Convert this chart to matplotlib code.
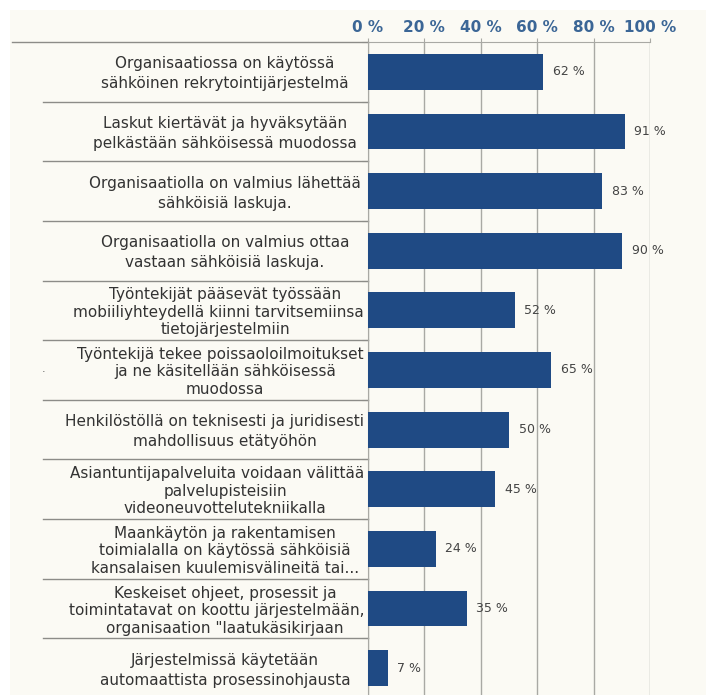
import matplotlib.pyplot as plt
import matplotlib.transforms as mtransforms
from matplotlib.patches import Rectangle

categories = [
    "Organisaatiossa on käytössä\nsähköinen rekrytointijärjestelmä",
    "Laskut kiertävät ja hyväksytään\npelkästään sähköisessä muodossa",
    "Organisaatiolla on valmius lähettää\nsähköisiä laskuja.",
    "Organisaatiolla on valmius ottaa\nvastaan sähköisiä laskuja.",
    "Työntekijät pääsevät työssään\nmobiiliyhteydellä kiinni tarvitsemiinsa\ntietojärjestelmiin",
    "Työntekijä tekee poissaoloilmoitukset\nja ne käsitellään sähköisessä\nmuodossa",
    "Henkilöstöllä on teknisesti ja juridisesti\nmahdollisuus etätyöhön",
    "Asiantuntijapalveluita voidaan välittää\npalvelupisteisiin\nvideoneuvottelutekniikalla",
    "Maankäytön ja rakentamisen\ntoimialalla on käytössä sähköisiä\nkansalaisen kuulemisvälineitä tai...",
    "Keskeiset ohjeet, prosessit ja\ntoimintatavat on koottu järjestelmään,\norganisaation \"laatukäsikirjaan",
    "Järjestelmissä käytetään\nautomaattista prosessinohjausta",
]
values = [62, 91, 83, 90, 52, 65, 50, 45, 24, 35, 7]
tick_values = [0, 20, 40, 60, 80, 100]
tick_labels = ["0 %", "20 %", "40 %", "60 %", "80 %", "100 %"]

bg = "#fbfaf4"
bar_color = "#1f4a84"
grid_color = "#a9a9a4"
sep_color = "#8c8c88"

W, H = 706, 695
fig = plt.figure(figsize=(W / 100, H / 100), dpi=100, facecolor="white")
fig.patches.append(Rectangle((10 / W, 0), 1, 1 - 10 / H, transform=fig.transFigure,
                             facecolor=bg, edgecolor="none", zorder=-10))
ax = fig.add_axes([368 / W, -3 / H, 282 / W, 656 / H], facecolor=bg)

n = len(categories)
ypos = list(range(n))
ax.barh(ypos, values, height=0.6, color=bar_color, zorder=3)
ax.set_xlim(0, 100)
ax.set_ylim(n - 0.5, -0.5)

for y, v in zip(ypos, values):
    ax.annotate(f"{v} %", (v, y), xytext=(7, 0), textcoords="offset points",
                va="center", ha="left", fontsize=9, color="#444444")

# top axis
ax.xaxis.tick_top()
ax.set_xticks(tick_values)
ax.set_xticklabels(tick_labels, fontsize=11, fontweight="bold", color="#3b6696")
ax.tick_params(axis="x", length=3, color=grid_color, pad=2)
ax.grid(axis="x", color=grid_color, linewidth=1, zorder=0)
ax.set_axisbelow(True)

ax.set_yticks([i - 0.5 for i in range(n + 1)])
ax.set_yticklabels([])
ax.tick_params(axis="y", length=4, color=grid_color)

for side in ["right", "bottom"]:
    ax.spines[side].set_visible(False)
for side in ["left", "top"]:
    ax.spines[side].set_color(grid_color)

# category labels: one text per line, centred, nudged to stay in the label area
trans = mtransforms.blended_transform_factory(fig.transFigure, ax.transData)
row_px = 656 / n
center_x = 225
left_px, right_px = 42, 364
line_texts = []
for y, label in zip(ypos, categories):
    lines = label.split("\n")
    line_px = 20 if len(lines) < 3 else 17.5
    for k, line in enumerate(lines):
        dy = ((k - (len(lines) - 1) / 2) * line_px + 2) / row_px
        t = ax.text(center_x / W, y + dy, line, transform=trans, ha="center",
                    va="center", fontsize=11, color="#333333", clip_on=False)
        line_texts.append(t)

fig.canvas.draw()
renderer = fig.canvas.get_renderer()
for t in line_texts:
    bb = t.get_window_extent(renderer)
    shift = 0
    if bb.x1 > right_px:
        shift = right_px - bb.x1
    elif bb.x0 < left_px:
        shift = left_px - bb.x0
    if shift:
        x, y = t.get_position()
        t.set_position((x + shift / W, y))

for i in range(1, n + 1):
    ax.plot([43 / W, 368 / W], [i - 0.5, i - 0.5], transform=trans,
            color=sep_color, linewidth=1, clip_on=False)
ax.plot([12 / W, 368 / W], [-0.5, -0.5], transform=trans,
        color=sep_color, linewidth=1, clip_on=False)

fig.text(42 / W, 1 - 372 / H, ".", fontsize=8, color="#555555")

fig.savefig("out.png", dpi=100, facecolor="white")
